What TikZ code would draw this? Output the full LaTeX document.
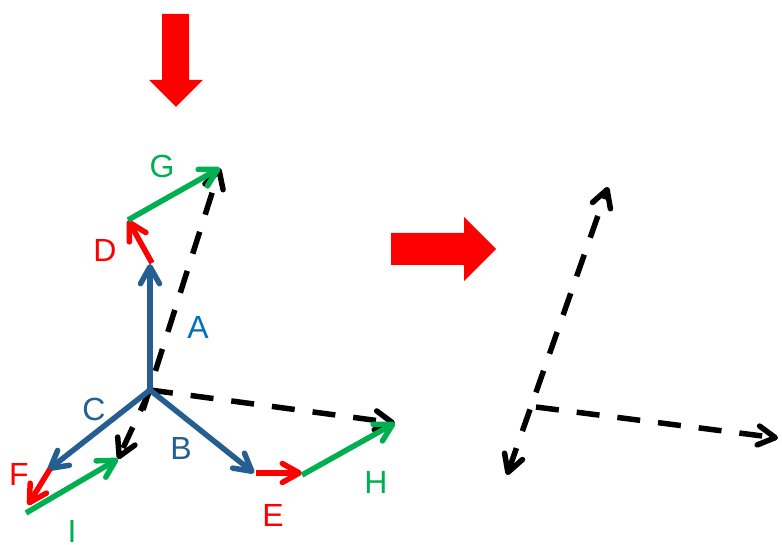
\documentclass[tikz,border=0pt]{standalone}
\usepackage{fontspec}
\setmainfont{Liberation Sans}
\usetikzlibrary{arrows.meta}
\definecolor{vblue}{HTML}{255E91}
\definecolor{lblue}{HTML}{0070C0}
\definecolor{vgreen}{HTML}{00B050}
\definecolor{vred}{HTML}{FF0000}
\begin{document}
\begin{tikzpicture}[x=1pt,y=-1pt,
  barb/.tip={Straight Barb[length=17pt,width=19pt,line cap=round,line join=round]},
  vec/.style={line width=5.5pt,-barb},
  res/.style={line width=5.5pt,black,dash pattern=on 23pt off 18pt,-barb},
  lbl/.style={inner sep=0pt,font=\fontsize{32}{38}\selectfont},
  bigarrow/.style={fill=vred,draw=none}]
\useasboundingbox (0,0) rectangle (782,545);
% big red arrows
\fill[bigarrow] (162,14) -- (189,14) -- (189,80) -- (203,80) -- (176,107) -- (149,80) -- (162,80) -- cycle;
\fill[bigarrow] (391,233) -- (464,233) -- (464,217) -- (496,249) -- (464,281) -- (464,265) -- (391,265) -- cycle;
% coordinates left figure
\coordinate (O) at (150,390);
\coordinate (Os) at (143,410);
\coordinate (Atip) at (150,264);
\coordinate (Dbeg) at (152,263);
\coordinate (Dtip) at (128,220);
\coordinate (Gtip) at (220,168);
\coordinate (Btip) at (254,473);
\coordinate (Ebeg) at (256,473);
\coordinate (Etip) at (302,473);
\coordinate (Hbeg) at (302,475);
\coordinate (Htip) at (395,423);
\coordinate (Ctip) at (48,470);
\coordinate (Fbeg) at (50,469);
\coordinate (Ftip) at (28,505);
\coordinate (Ibeg) at (26,513);
\coordinate (Itip) at (118,459);
% resultants
\draw[res] (Os) -- (Gtip);
\draw[res] (O) -- (Htip);
\draw[res] (O) -- (Itip);
% vectors
\draw[vec,vblue] (O) -- (Atip);
\draw[vec,vblue] (O) -- (Btip);
\draw[vec,vblue] (O) -- (Ctip);
\draw[vec,vred] (Dbeg) -- (Dtip);
\draw[vec,vred] (Ebeg) -- (Etip);
\draw[vec,vred] (Fbeg) -- (Ftip);
\draw[vec,vgreen] (Dtip) -- (Gtip);
\draw[vec,vgreen] (Hbeg) -- (Htip);
\draw[vec,vgreen] (Ibeg) -- (Itip);
% labels
\node[lbl,text=vgreen] (lG) at (162,166) {G};
\node[lbl,text=vred] (lD) at (105,250) {D};
\node[lbl,text=lblue] (lA) at (198,327) {A};
\node[lbl,text=vblue] (lC) at (94,409) {C};
\node[lbl,text=vblue] (lB) at (181,448) {B};
\node[lbl,text=vred] (lF) at (19,474) {F};
\node[lbl,text=vgreen] (lI) at (72,531) {I};
\node[lbl,text=vred] (lE) at (273,515) {E};
\node[lbl,text=vgreen] (lH) at (376,482) {H};
% right figure
\coordinate (R) at (536,407);
\coordinate (Rup) at (608,187);
\coordinate (Rdn) at (507,475);
\coordinate (Rrt) at (778,438);
\draw[res,barb-barb] (Rdn) -- (Rup);
\draw[res] (R) -- (Rrt);
\end{tikzpicture}
\end{document}
